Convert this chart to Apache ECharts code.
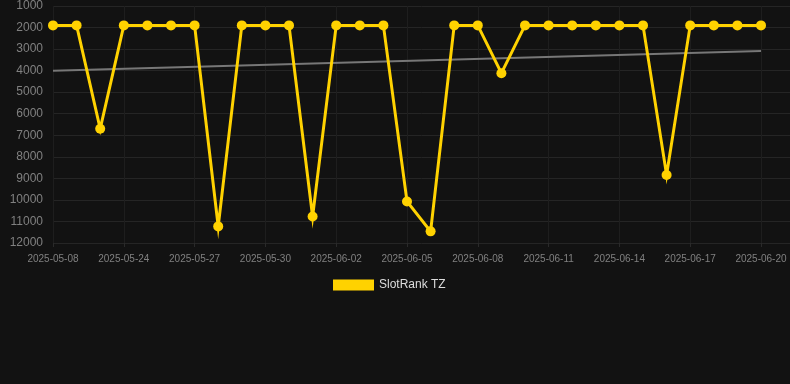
<!DOCTYPE html>
<html>
<head>
<meta charset="utf-8">
<script src="https://cdn.jsdelivr.net/npm/echarts@6/dist/echarts.min.js"></script>
<style>
  html, body { margin: 0; padding: 0; background: #121212; }
  #chart { width: 790px; height: 384px; }
</style>
</head>
<body>
<div id="chart"></div>
<script>
// dates on the x axis (only every third one is labelled)
var dates = [
  "2025-05-08", "2025-05-22", "2025-05-23", "2025-05-24", "2025-05-25", "2025-05-26",
  "2025-05-27", "2025-05-28", "2025-05-29", "2025-05-30", "2025-05-31", "2025-06-01",
  "2025-06-02", "2025-06-03", "2025-06-04", "2025-06-05", "2025-06-06", "2025-06-07",
  "2025-06-08", "2025-06-09", "2025-06-10", "2025-06-11", "2025-06-12", "2025-06-13",
  "2025-06-14", "2025-06-15", "2025-06-16", "2025-06-17", "2025-06-18", "2025-06-19",
  "2025-06-20"
]
// rank values
var rankTZ = [
  1900, 1900, 6700, 1900, 1900, 1900, 1900, 11230, 1900, 1900, 1900, 10770,
  1900, 1900, 1900, 10070, 11460, 1900, 1900, 4120, 1900, 1900, 1900, 1900,
  1900, 1900, 8840, 1900, 1900, 1900, 1900
]
// trend line: first and last value only
var trendStart = 4000
var trendEnd = 3090
var yTicks = [1000, 12000, 1000] // min, max, step

var trend = dates.map(function(d, i) {
  if (i === 0) return trendStart
  if (i === dates.length - 1) return trendEnd
  return null
})

var chart = echarts.init(document.getElementById("chart"))
chart.setOption({
  backgroundColor: "#121212",
  animation: false,
  grid: [
    // background grid: horizontal lines run to the right edge
    { left: 53, right: 0, top: 6, bottom: 141 },
    { left: 53, right: 29, top: 6, bottom: 141 }
  ],
  legend: {
    data: ["SlotRank TZ"],
    left: 328,
    top: 274,
    icon: "rect",
    itemWidth: 41,
    itemHeight: 11,
    itemGap: 10,
    textStyle: { color: "#dddddd", fontSize: 12, fontFamily: "Liberation Sans" }
  },
  xAxis: [
    { gridIndex: 0, type: "category", data: dates, show: false },
    {
      gridIndex: 1,
      type: "category",
      data: dates,
      boundaryGap: false,
      axisLine: { show: false },
      axisTick: { show: true, interval: 2, length: 4, lineStyle: { color: "#2a2a2a" } },
      axisLabel: {
        interval: 2,
        margin: 11,
        color: "#808080",
        fontSize: 10,
        fontFamily: "Liberation Sans"
      },
      splitLine: { show: true, interval: 2, lineStyle: { color: "#1e1e1e", width: 1 } }
    }
  ],
  yAxis: [
    {
      gridIndex: 0,
      type: "value",
      inverse: true,
      min: yTicks[0],
      max: yTicks[1],
      interval: yTicks[2],
      axisLine: { show: false },
      axisTick: { show: false },
      axisLabel: {
        color: "#808080",
        fontSize: 12,
        margin: 10,
        fontFamily: "Liberation Sans",
        formatter: function(v) { return String(v) }
      },
      splitLine: { lineStyle: { color: "#252525", width: 1 } }
    },
    {
      gridIndex: 1,
      type: "value",
      inverse: true,
      min: yTicks[0],
      max: yTicks[1],
      interval: yTicks[2],
      show: false,
      splitLine: { show: false }
    }
  ],
  series: [
    {
      name: "trend",
      type: "line",
      xAxisIndex: 1,
      yAxisIndex: 1,
      data: trend,
      connectNulls: true,
      showSymbol: false,
      symbol: "none",
      lineStyle: { color: "#777777", width: 2 },
      z: 1
    },
    {
      name: "SlotRank TZ",
      type: "line",
      xAxisIndex: 1,
      yAxisIndex: 1,
      data: rankTZ,
      symbol: "circle",
      symbolSize: 10,
      color: "#FFD200",
      lineStyle: { color: "#FFD200", width: 3, join: "miter" },
      itemStyle: { color: "#FFD200" },
      z: 3
    }
  ]
})
</script>
</body>
</html>
